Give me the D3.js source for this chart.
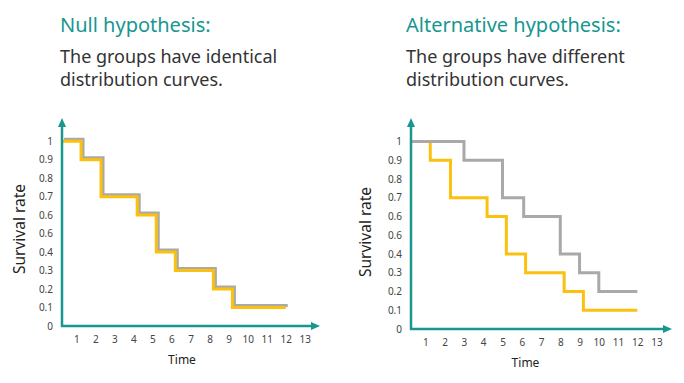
<!DOCTYPE html>
<html>
<head>
<meta charset="utf-8">
<script src="https://cdn.jsdelivr.net/npm/d3@7"></script>
<style>
  body { margin: 0; background: #fff; }
  svg { display: block; font-family: "Noto Sans", sans-serif; }
</style>
</head>
<body>
<div id="vizHolder"></div>
<script>
// tick labels as printed on the original (note the repeated 0.6)
var yTickValues = [0, 0.1, 0.2, 0.3, 0.4, 0.5, 0.6, 0.7, 0.8, 0.9, 1],
    yTickLabels = ['0', '0.1', '0.2', '0.3', '0.4', '0.6', '0.6', '0.7', '0.8', '0.9', '1'],
    xTickValues = [1, 2, 3, 4, 5, 6, 7, 8, 9, 10, 11, 12, 13];

// null hypothesis: both groups follow the same curve
var nullTimes = [0.25, 1.25, 2.3, 4.2, 5.2, 6.2, 8.2, 9.2, 12],
    nullGroupA = [1, 0.9, 0.7, 0.6, 0.4, 0.3, 0.2, 0.1, 0.1],
    nullGroupB = [1, 0.9, 0.7, 0.6, 0.4, 0.3, 0.2, 0.1, 0.1];

// alternative hypothesis: different curves
var altTimesA = [0.25, 1.25, 2.3, 4.2, 5.2, 6.2, 8.2, 9.2, 12],
    altGroupA = [1, 0.9, 0.7, 0.6, 0.4, 0.3, 0.2, 0.1, 0.1],
    altTimesB = [0.25, 3, 5, 6.1, 8, 9, 10, 12],
    altGroupB = [1, 0.9, 0.7, 0.6, 0.4, 0.3, 0.2, 0.2];

var titles = ['Null hypothesis:', 'Alternative hypothesis:'],
    captions = [['The groups have identical', 'distribution curves.'],
                ['The groups have different', 'distribution curves.']];

var teal = '#17978f', yellow = '#fcc10f', grey = '#a9a9a9';

var svg = d3.select('#vizHolder').append('svg')
  .attr('width', 684)
  .attr('height', 383);

function zip(ts, vs) {
  return ts.map(function(t, i) { return { t: t, v: vs[i] }; });
}

function panel(o) {
  var g = svg.append('g');

  g.append('text')
    .attr('x', o.textX).attr('y', 31.5)
    .attr('fill', teal)
    .attr('font-size', 20)
    .text(o.title);

  g.selectAll('.cap')
    .data(o.caption)
    .enter().append('text')
    .attr('class', 'cap')
    .attr('x', o.textX)
    .attr('y', function(d, i) { return 63 + i * 23; })
    .attr('fill', '#333')
    .attr('font-size', 18)
    .text(function(d) { return d; });

  var x = d3.scaleLinear().domain([0.25, 13.8]).range([o.left, o.right]);
  var y = d3.scaleLinear().domain([0, 1.12]).range([o.bottom, 119]);

  var xAxis = g.append('g')
    .attr('transform', 'translate(0,' + o.bottom + ')')
    .call(d3.axisBottom(x).tickValues(xTickValues).tickSize(0).tickPadding(10));
  xAxis.select('.domain').remove();
  xAxis.selectAll('text').attr('font-size', 10).attr('fill', '#444').attr('font-family', 'Noto Sans');

  var yAxis = g.append('g')
    .attr('transform', 'translate(' + o.left + ',0)')
    .call(d3.axisLeft(y).tickValues(yTickValues).tickSize(0).tickPadding(9)
      .tickFormat(function(d, i) { return yTickLabels[i]; }));
  yAxis.select('.domain').remove();
  yAxis.selectAll('text').attr('font-size', 10).attr('fill', '#444').attr('font-family', 'Noto Sans');

  var line = d3.line()
    .x(function(d) { return x(d.t); })
    .y(function(d) { return y(d.v); })
    .curve(d3.curveStepAfter);

  o.series.forEach(function(s) {
    g.append('path')
      .datum(s.data)
      .attr('d', line)
      .attr('fill', 'none')
      .attr('stroke', s.color)
      .attr('stroke-width', 3)
      .attr('transform', 'translate(' + (s.dx || 0) + ',' + (s.dy || 0) + ')');
  });

  // axes with arrow heads
  g.append('line')
    .attr('x1', o.left).attr('y1', o.bottom + 1)
    .attr('x2', o.left).attr('y2', 126)
    .attr('stroke', teal).attr('stroke-width', 2.5);
  g.append('line')
    .attr('x1', o.left - 1).attr('y1', o.bottom)
    .attr('x2', o.right - 7).attr('y2', o.bottom)
    .attr('stroke', teal).attr('stroke-width', 2.5);
  g.append('path')
    .attr('d', 'M' + o.left + ',118 l-4,9 l8,0 z')
    .attr('fill', teal);
  g.append('path')
    .attr('d', 'M' + o.right + ',' + o.bottom + ' l-9,-4 l0,8 z')
    .attr('fill', teal);

  g.append('text')
    .attr('x', (o.left + o.right) / 2 + o.timeDx)
    .attr('y', o.bottom + 38)
    .attr('text-anchor', 'middle')
    .attr('fill', '#222')
    .attr('font-size', 12)
    .text('Time');

  g.append('text')
    .attr('transform', 'translate(' + o.labelX + ',' + o.labelY + ') rotate(-90)')
    .attr('text-anchor', 'middle')
    .attr('fill', '#222')
    .attr('font-size', 15.5)
    .text('Survival rate');
}

panel({
  title: titles[0], caption: captions[0], textX: 60,
  left: 62, right: 320, bottom: 326, timeDx: -9,
  labelX: 25, labelY: 229,
  series: [
    { data: zip(nullTimes, nullGroupB), color: grey, dx: 2, dy: -2 },
    { data: zip(nullTimes, nullGroupA), color: yellow }
  ]
});

panel({
  title: titles[1], caption: captions[1], textX: 406,
  left: 411, right: 672, bottom: 329, timeDx: -16,
  labelX: 371, labelY: 232,
  series: [
    { data: zip(altTimesA, altGroupA), color: yellow },
    { data: zip(altTimesB, altGroupB), color: grey }
  ]
});
</script>
</body>
</html>
